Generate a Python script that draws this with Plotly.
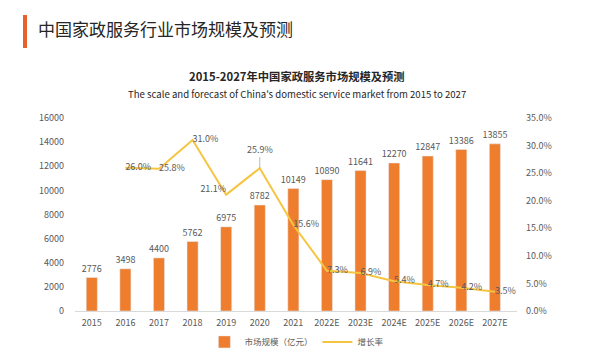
import plotly.graph_objects as go

years = ["2015", "2016", "2017", "2018", "2019", "2020", "2021",
         "2022E", "2023E", "2024E", "2025E", "2026E", "2027E"]
market_size = [2776, 3498, 4400, 5762, 6975, 8782, 10149,
               10890, 11641, 12270, 12847, 13386, 13855]
growth_years = years[1:]
growth_rate = [26.0, 25.8, 31.0, 21.1, 25.9, 15.6, 7.3, 6.9, 5.4, 4.7, 4.2, 3.5]
left_ticks = [0, 2000, 4000, 6000, 8000, 10000, 12000, 14000, 16000]
right_ticks = [0, 5, 10, 15, 20, 25, 30, 35]

FONT = "Noto Sans CJK SC, Noto Sans, sans-serif"
GRAY = "#595959"
BAR = "#EE7D2E"
LINE = "#F5C542"

growth_text = [f"{v:.1f}%" for v in growth_rate]
positions = []
line_labels = []
for yr, t in zip(growth_years, growth_text):
    if yr == "2020":
        positions.append("top center")
        line_labels.append("")
    elif yr == "2019":
        positions.append("top left")
        line_labels.append(t)
    else:
        positions.append("middle right")
        line_labels.append(t)

fig = go.Figure()
fig.add_trace(go.Bar(
    x=years, y=market_size, name="市场规模（亿元）",
    marker_color=BAR, width=0.33,
    text=[str(v) for v in market_size], textposition="outside",
    constraintext="none",
    textfont=dict(size=9, color=GRAY, family=FONT), cliponaxis=False,
))
fig.add_trace(go.Scatter(
    x=growth_years, y=growth_rate, name="增长率", yaxis="y2",
    mode="lines+text", line=dict(color=LINE, width=2),
    text=line_labels, textposition=positions,
    textfont=dict(size=9, color=GRAY, family=FONT), cliponaxis=False,
))

for yr, v, t in zip(growth_years, growth_rate, growth_text):
    if yr == "2020":
        fig.add_annotation(x=years.index(yr), y=v, xref="x", yref="y2", text=t,
                           showarrow=True, arrowhead=0, arrowwidth=0.8,
                           arrowcolor="#A6A6A6", ax=0, ay=-19,
                           font=dict(size=9, color=GRAY, family=FONT))

# Titles
fig.add_annotation(xref="paper", yref="paper", x=-0.088, y=1.466,
                   xanchor="left", yanchor="middle", showarrow=False,
                   text="中国家政服务行业市场规模及预测",
                   font=dict(size=17, color="#262626", family=FONT))
fig.add_annotation(xref="paper", yref="paper", x=0.502, y=1.218,
                   xanchor="center", yanchor="middle", showarrow=False,
                   text="<b>2015-2027年中国家政服务市场规模及预测</b>",
                   font=dict(size=11.3, color="#262626", family=FONT))
fig.add_annotation(xref="paper", yref="paper", x=0.502, y=1.124,
                   xanchor="center", yanchor="middle", showarrow=False,
                   text="The scale and forecast of China's domestic service market from 2015 to 2027",
                   font=dict(size=9.6, color="#262626", family=FONT))
fig.add_shape(type="rect", xref="paper", yref="paper",
              x0=-0.1176, x1=-0.1086, y0=1.3627, y1=1.5337,
              fillcolor="#E8602C", line_width=0)

fig.update_layout(
    width=584, height=347,
    margin=dict(l=67, r=75, t=110, b=44, autoexpand=False),
    paper_bgcolor="white", plot_bgcolor="white",
    font=dict(family=FONT, size=9, color=GRAY),
    showlegend=True,
    legend=dict(orientation="h", x=0.502, xanchor="center", y=-0.16,
                yanchor="middle", bgcolor="rgba(0,0,0,0)",
                font=dict(size=8.5, color=GRAY, family=FONT),
                itemwidth=30, tracegroupgap=0),
    xaxis=dict(type="category", showgrid=False, showline=True,
               linecolor="#D9D9D9", linewidth=1, ticks="",
               ticklabelstandoff=3, tickfont=dict(size=9, color=GRAY)),
    yaxis=dict(range=[0, 16000], tickvals=left_ticks,
               ticktext=[str(v) for v in left_ticks], showgrid=False,
               zeroline=False, showline=False, ticklabelstandoff=10,
               tickfont=dict(size=9, color=GRAY)),
    yaxis2=dict(range=[0, 35], tickvals=right_ticks,
                ticktext=[f"{v:.1f}%" for v in right_ticks],
                overlaying="y", side="right", showgrid=False,
                zeroline=False, showline=False, ticklabelstandoff=8,
                tickfont=dict(size=9, color=GRAY)),
)

fig.write_html("out.html")
